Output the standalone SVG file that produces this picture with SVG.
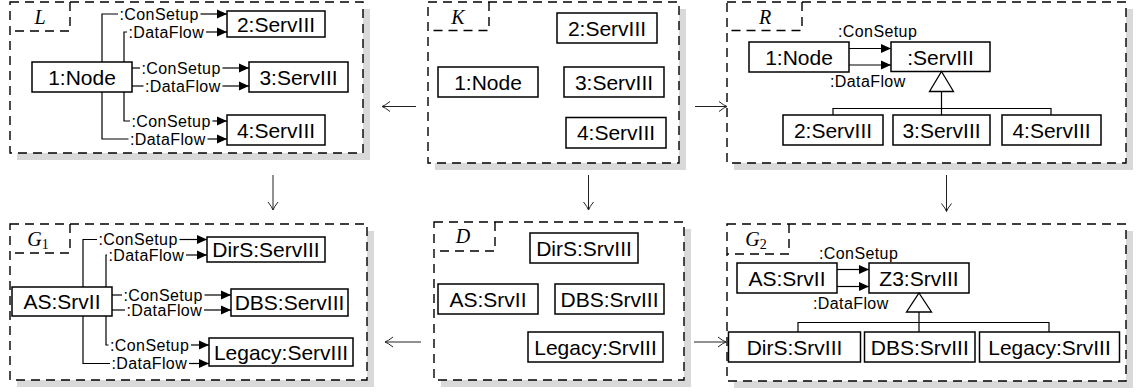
<svg xmlns="http://www.w3.org/2000/svg" width="1137" height="392" viewBox="0 0 1137 392">
  <defs>
    <style>
      .shadow { fill: #d9d9d9; }
      .panel { fill: #fff; stroke: #000; stroke-width: 1.4; stroke-dasharray: 9 6; }
      .tab { fill: none; stroke: #000; stroke-width: 1.4; stroke-dasharray: 9 6; }
      .tabname { font-family: "Liberation Serif", "Times New Roman", serif; font-style: italic; font-size: 20px; text-anchor: middle; }
      .sub { font-style: normal; font-size: 14px; }
      .box { fill: #fff; stroke: #000; stroke-width: 1.5; }
      .name { font-family: "Liberation Sans", Arial, sans-serif; font-size: 21px; text-anchor: middle; }
      .lbl { font-family: "Liberation Sans", Arial, sans-serif; font-size: 16px; letter-spacing: 0.4px; }
      .conn { fill: none; stroke: #000; stroke-width: 1.2; }
      .flow { fill: none; stroke: #000; stroke-width: 1.2; marker-end: url(#solid); }
      .gen { fill: #fff; stroke: #000; stroke-width: 1.3; }
      .map { fill: none; stroke: #222; stroke-width: 1; marker-end: url(#open); }
    </style>
    <marker id="solid" markerUnits="userSpaceOnUse" markerWidth="11" markerHeight="10" refX="10" refY="4.5" orient="auto" overflow="visible">
      <path d="M0,0 L10,4.5 L0,9 Z" fill="#000"/>
    </marker>
    <marker id="open" markerUnits="userSpaceOnUse" markerWidth="12" markerHeight="12" refX="0" refY="0" orient="auto" overflow="visible">
      <path d="M-8,-5 Q-3,-1 0,0 Q-3,1 -8,5" fill="none" stroke="#222" stroke-width="1"/>
    </marker>
  </defs>

  <!-- ===== Panel L ===== -->
  <g id="panel-L">
    <rect class="shadow" x="17" y="9" width="353" height="151"/>
    <rect class="panel" x="10" y="2" width="353" height="151"/>
    <path class="tab" d="M70,2 V31 H10"/>
    <text class="tabname" x="40" y="24">L</text>
  </g>
  <g id="L-node1"><rect class="box" x="32" y="62" width="100" height="30"/><text class="name" x="82" y="84.5">1:Node</text></g>
  <g id="L-serv2"><rect class="box" x="227" y="11" width="98" height="26"/><text class="name" x="276" y="31.5">2:ServIII</text></g>
  <g id="L-serv3"><rect class="box" x="249" y="62" width="99" height="30"/><text class="name" x="298.5" y="84.5">3:ServIII</text></g>
  <g id="L-serv4"><rect class="box" x="227" y="115" width="98" height="30"/><text class="name" x="276" y="137.5">4:ServIII</text></g>

  <!-- ===== Panel K ===== -->
  <g id="panel-K">
    <rect class="shadow" x="435" y="9" width="251" height="161"/>
    <rect class="panel" x="428" y="2" width="251" height="161"/>
    <path class="tab" d="M489,2 V30.5 H428"/>
    <text class="tabname" x="458" y="23.5">K</text>
  </g>
  <g id="K-serv2"><rect class="box" x="557" y="13" width="100" height="30"/><text class="name" x="607" y="35.5">2:ServIII</text></g>
  <g id="K-node1"><rect class="box" x="438" y="67" width="100" height="30"/><text class="name" x="488" y="89.5">1:Node</text></g>
  <g id="K-serv3"><rect class="box" x="564" y="67" width="100" height="30"/><text class="name" x="614" y="89.5">3:ServIII</text></g>
  <g id="K-serv4"><rect class="box" x="566" y="117.5" width="100" height="30.5"/><text class="name" x="616" y="140">4:ServIII</text></g>

  <!-- ===== Panel R ===== -->
  <g id="panel-R">
    <rect class="shadow" x="734" y="9" width="399" height="161"/>
    <rect class="panel" x="727" y="2" width="399" height="161"/>
    <path class="tab" d="M802,2 V30.5 H727"/>
    <text class="tabname" x="765" y="24">R</text>
  </g>
  <g id="R-node1"><rect class="box" x="749" y="42" width="100" height="30"/><text class="name" x="799" y="64.5">1:Node</text></g>
  <g id="R-serv"><rect class="box" x="891" y="42" width="99" height="29.5"/><text class="name" x="940.5" y="64.5">:ServIII</text></g>
  <g id="R-serv2"><rect class="box" x="783" y="115" width="100" height="30"/><text class="name" x="833" y="137.5">2:ServIII</text></g>
  <g id="R-serv3"><rect class="box" x="893" y="115" width="97" height="30"/><text class="name" x="941.5" y="137.5">3:ServIII</text></g>
  <g id="R-serv4"><rect class="box" x="1002" y="115" width="99" height="30"/><text class="name" x="1051.5" y="137.5">4:ServIII</text></g>

  <!-- ===== Panel G1 ===== -->
  <g id="panel-G1">
    <rect class="shadow" x="17" y="231" width="357" height="156"/>
    <rect class="panel" x="10" y="224" width="357" height="156"/>
    <path class="tab" d="M70,224 V253 H10"/>
    <text class="tabname" x="38" y="245.5">G<tspan class="sub" dy="3">1</tspan></text>
  </g>
  <g id="G1-as"><rect class="box" x="12" y="287" width="100" height="29"/><text class="name" x="62" y="309">AS:SrvII</text></g>
  <g id="G1-dirs"><rect class="box" x="207" y="237" width="118" height="25"/><text class="name" x="266" y="257">DirS:ServIII</text></g>
  <g id="G1-dbs"><rect class="box" x="231" y="289" width="117" height="27"/><text class="name" x="289.5" y="310">DBS:ServIII</text></g>
  <g id="G1-legacy"><rect class="box" x="209" y="338" width="144" height="28"/><text class="name" x="281" y="359.5">Legacy:ServIII</text></g>

  <!-- ===== Panel D ===== -->
  <g id="panel-D">
    <rect class="shadow" x="441" y="229" width="250" height="158"/>
    <rect class="panel" x="434" y="222" width="250" height="158"/>
    <path class="tab" d="M495,222 V251 H434"/>
    <text class="tabname" x="463" y="243">D</text>
  </g>
  <g id="D-dirs"><rect class="box" x="530" y="233" width="108" height="30"/><text class="name" x="584" y="255.5">DirS:SrvIII</text></g>
  <g id="D-as"><rect class="box" x="438" y="284" width="100" height="30"/><text class="name" x="488" y="306.5">AS:SrvII</text></g>
  <g id="D-dbs"><rect class="box" x="555" y="284" width="109" height="30"/><text class="name" x="609.5" y="306.5">DBS:SrvIII</text></g>
  <g id="D-legacy"><rect class="box" x="528" y="332" width="135" height="30"/><text class="name" x="595.5" y="354.5">Legacy:SrvIII</text></g>

  <!-- ===== Panel G2 ===== -->
  <g id="panel-G2">
    <rect class="shadow" x="734" y="231" width="399" height="157"/>
    <rect class="panel" x="727" y="224" width="399" height="157"/>
    <path class="tab" d="M789,224 V254 H727"/>
    <text class="tabname" x="756" y="246">G<tspan class="sub" dy="3">2</tspan></text>
  </g>
  <g id="G2-as"><rect class="box" x="737" y="263" width="100" height="30"/><text class="name" x="787" y="285.5">AS:SrvII</text></g>
  <g id="G2-z3"><rect class="box" x="869" y="263" width="100" height="30"/><text class="name" x="919" y="285.5">Z3:SrvIII</text></g>
  <g id="G2-dirs"><rect class="box" x="728.5" y="332" width="132" height="30"/><text class="name" x="794.5" y="354.5">DirS:SrvIII</text></g>
  <g id="G2-dbs"><rect class="box" x="864.5" y="332" width="110.5" height="30"/><text class="name" x="919.75" y="354.5">DBS:SrvIII</text></g>
  <g id="G2-legacy"><rect class="box" x="979.5" y="332" width="140" height="30"/><text class="name" x="1049.5" y="354.5">Legacy:SrvIII</text></g>

  <!-- ===== Connectors ===== -->
  <g id="connectors">
    <!-- L: 1:Node to the three services -->
    <path class="conn" d="M102,62 V14 H118"/>
    <text class="lbl" x="119.5" y="19.7">:ConSetup</text>
    <path class="flow" d="M200.5,14 H227"/>
    <path class="conn" d="M124,62 V32 H127"/>
    <text class="lbl" x="128.5" y="37.7">:DataFlow</text>
    <path class="flow" d="M206,32 H227"/>
    <path class="conn" d="M132,68 H140"/>
    <text class="lbl" x="141.5" y="73.7">:ConSetup</text>
    <path class="flow" d="M222.5,68 H249"/>
    <path class="conn" d="M132,86 H143.5"/>
    <text class="lbl" x="145" y="91.7">:DataFlow</text>
    <path class="flow" d="M222.5,86 H249"/>
    <path class="conn" d="M124,92 V121 H130"/>
    <text class="lbl" x="131.5" y="126.7">:ConSetup</text>
    <path class="flow" d="M212.5,121 H227"/>
    <path class="conn" d="M102,92 V139 H128.5"/>
    <text class="lbl" x="130" y="144.7">:DataFlow</text>
    <path class="flow" d="M207.5,139 H227"/>

    <!-- R: node to abstract service, generalisation -->
    <path class="flow" d="M849,48.5 H891"/>
    <path class="flow" d="M849,65 H891"/>
    <text class="lbl" x="838" y="37">:ConSetup</text>
    <text class="lbl" x="830" y="87">:DataFlow</text>
    <path class="conn" d="M941.5,91.5 V115 M833,115 V108.5 H1051 V115"/>
    <path class="gen" d="M941.5,71.5 L953.5,91.5 H929.5 Z"/>

    <!-- G1: AS to the three services -->
    <path class="conn" d="M83,287 V239.5 H97"/>
    <text class="lbl" x="98.5" y="245.2">:ConSetup</text>
    <path class="flow" d="M179.5,239.5 H207"/>
    <path class="conn" d="M106,287 V255 H107"/>
    <text class="lbl" x="108.5" y="260.7">:DataFlow</text>
    <path class="flow" d="M186,255 H207"/>
    <path class="conn" d="M112,295 H122"/>
    <text class="lbl" x="123.5" y="300.7">:ConSetup</text>
    <path class="flow" d="M204.5,295 H231"/>
    <path class="conn" d="M112,310 H125"/>
    <text class="lbl" x="126.5" y="315.7">:DataFlow</text>
    <path class="flow" d="M204,310 H231"/>
    <path class="conn" d="M106,316 V345 H108.5"/>
    <text class="lbl" x="110" y="350.7">:ConSetup</text>
    <path class="flow" d="M191,345 H209"/>
    <path class="conn" d="M83,316 V363.5 H110"/>
    <text class="lbl" x="111.5" y="369.2">:DataFlow</text>
    <path class="flow" d="M189,363.5 H209"/>

    <!-- G2: AS to Z3, generalisation -->
    <path class="flow" d="M837,269.5 H869"/>
    <path class="flow" d="M837,286.5 H869"/>
    <text class="lbl" x="819" y="258.5">:ConSetup</text>
    <text class="lbl" x="813" y="309">:DataFlow</text>
    <path class="conn" d="M919,312 V332 M798,332 V322.5 H1049 V332"/>
    <path class="gen" d="M919,293 L931.5,312 H906.5 Z"/>

    <!-- transformation arrows between panels -->
    <path class="map" d="M416,106.5 H382"/>
    <path class="map" d="M695,106.5 H727"/>
    <path class="map" d="M273,175 V210"/>
    <path class="map" d="M588.5,175 V210"/>
    <path class="map" d="M946.5,175 V211.5"/>
    <path class="map" d="M421,342 H385"/>
    <path class="map" d="M694,342 H726"/>
  </g>
</svg>
